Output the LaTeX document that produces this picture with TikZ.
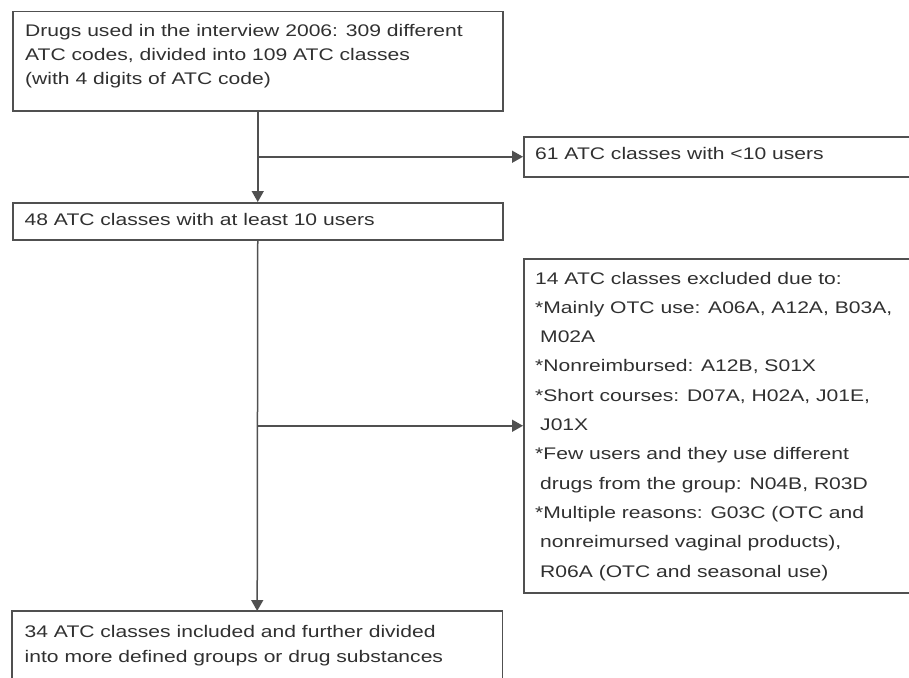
\documentclass[tikz,border=0pt]{standalone}
\usepackage{fontspec}
\setmainfont{Liberation Sans}[FakeStretch=1.255]
\usetikzlibrary{arrows.meta}
\definecolor{linec}{HTML}{505050}
\definecolor{textc}{HTML}{303030}
\begin{document}
\begin{tikzpicture}[x=1pt,y=-1pt,
  boxc/.style={draw=linec,line width=1.5pt,inner sep=0pt,anchor=north west,rectangle},
  openbox/.style={inner sep=0pt,anchor=north west,rectangle},
  txt/.style={inner sep=0pt,anchor=base west,text=textc},
  arr/.style={draw=linec,line width=1.5pt,-{Triangle[length=11pt,width=12pt]}}]
\useasboundingbox (0,0) rectangle (909,677);
\clip (0,0) rectangle (909,677);
% boxes
\node[boxc,minimum width=490pt,minimum height=99pt] (b1) at (12,11) {};
\node[boxc,minimum width=392pt,minimum height=40pt] (b61) at (523,136) {};
\node[boxc,minimum width=490pt,minimum height=37pt] (b2) at (12,202) {};
\node[boxc,minimum width=392pt,minimum height=334pt] (b3) at (523,258) {};
\node[openbox,minimum width=490pt,minimum height=90pt] (b4) at (12,611) {};
\draw[draw=linec,line width=1.5pt] (b4.south west) -- (b4.north west) -- (b4.north east) -- (b4.south east);
% texts
\node[txt] (t1) at (25,36.5) {\parbox[t]{470pt}{\fontsize{16.8}{24}\selectfont
Drugs used in the interview 2006: 309 different\\
ATC codes, divided into 109 ATC classes\\
(with 4 digits of ATC code)}};
\node[txt] (t61) at (535,159.5) {\fontsize{16.8}{24}\selectfont 61 ATC classes with <10 users};
\node[txt] (t2) at (24.5,225) {\fontsize{16.8}{24}\selectfont 48 ATC classes with at least 10 users};
\node[txt] (t3) at (535,284) {\parbox[t]{370pt}{\fontsize{16.8}{29.3}\selectfont
14 ATC classes excluded due to:\\{}%
*Mainly OTC use: A06A, A12A, B03A,\\
\hspace*{5pt}M02A\\{}%
*Nonreimbursed: A12B, S01X\\{}%
*Short courses: D07A, H02A, J01E,\\
\hspace*{5pt}J01X\\{}%
*Few users and they use different\\
\hspace*{5pt}drugs from the group: N04B, R03D\\{}%
*Multiple reasons: G03C (OTC and\\
\hspace*{5pt}nonreimursed vaginal products),\\
\hspace*{5pt}R06A (OTC and seasonal use)}};
\node[txt] (t4) at (24.5,637.5) {\parbox[t]{470pt}{\fontsize{16.8}{25.3}\selectfont
34 ATC classes included and further divided\\
into more defined groups or drug substances}};
% connectors
\draw[arr] (b1.south) -- (b2.north);
\draw[arr] (b1.south |- b61.west) -- (b61.west);
\draw[arr] (b2.south) -- (b4.north);
\draw[arr] (b2.south |- b3.west) -- (b3.west);
\end{tikzpicture}
\end{document}
